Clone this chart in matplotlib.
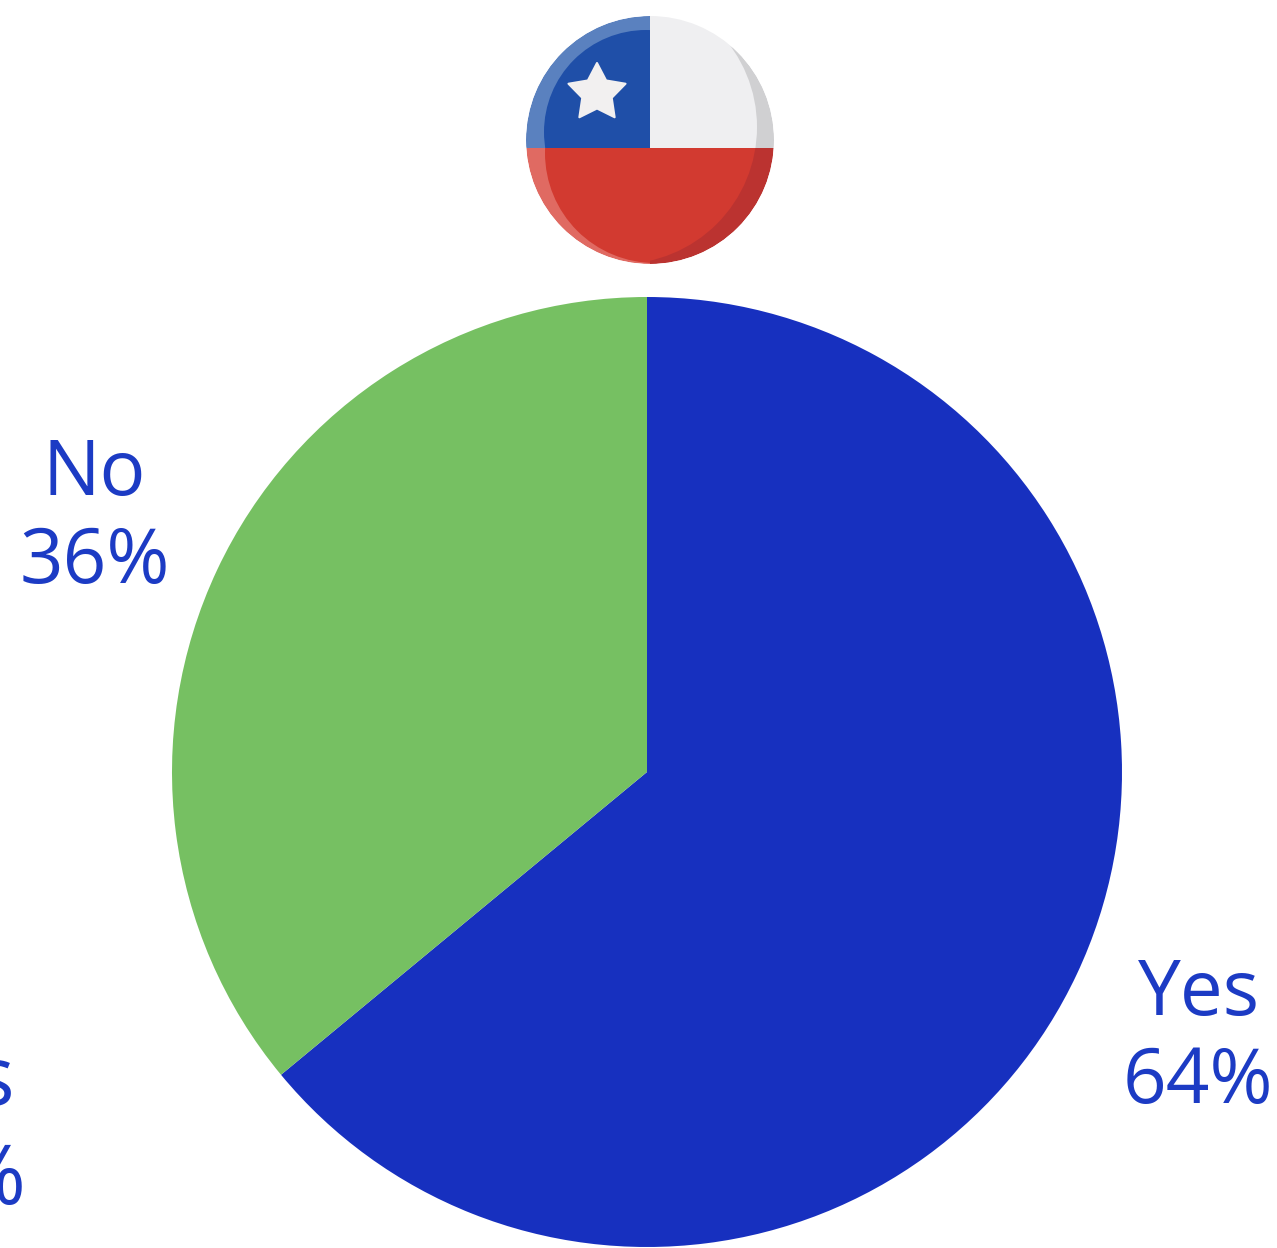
import matplotlib
matplotlib.use('Agg')
import matplotlib.pyplot as plt
import numpy as np
from matplotlib.patches import Circle, Polygon, Rectangle, Wedge

labels = ['Yes', 'No']
shares = [64, 36]
colors = ['#1730bf', '#76c062']
text_color = '#1c3bc4'
H = 1248
FONT = 55

plt.rcParams['font.family'] = ['Open Sans', 'DejaVu Sans']

fig = plt.figure(figsize=(12.77, 12.48), dpi=100, facecolor='white')
ax = fig.add_axes([0, 0, 1, 1])

ax.pie(shares, colors=colors, startangle=90, counterclock=False,
       center=(647, H - 772), radius=475, frame=True,
       wedgeprops={'linewidth': 0})

ax.set_xlim(0, 1277)
ax.set_ylim(0, H)
ax.axis('off')


def label(x, y, s, ha='center', size=FONT):
    ax.text(x, H - y, s, color=text_color, fontsize=size, ha=ha, va='baseline')


label(94, 495, labels[1])
label(95, 583, str(shares[1]) + '%')
label(1199, 1015, labels[0])
label(1198, 1103, str(shares[0]) + '%')

# pieces of the next pie's label, cut by the left edge
label(14, 1105, 's', ha='right', size=60)
label(26, 1204, '%', ha='right', size=60)

# round flag badge, one quadrant at a time: rim colour, then face colour
fx, fy, fr = 650, 140, 124
split_y = 148
disc = Circle((fx, H - fy), fr, transform=ax.transData)
lit_top = ((646, 132), 102)
lit_bottom = ((655, 153), 110)
shade = ((620, 127), 137)
quadrants = [
    (fx - 150, H - split_y, '#5a81bf', '#1f4fa8', lit_top),
    (fx - 150, H - split_y - 150, '#e06a62', '#d23a30', lit_bottom),
    (fx, H - split_y, '#d0d0d2', '#efeff1', shade),
    (fx, H - split_y - 150, '#bb3330', '#d23a30', shade),
]
for x0, y0, rim, face, (centre, r) in quadrants:
    base = Rectangle((x0, y0), 150, 150, fc=rim, lw=0, zorder=3)
    ax.add_patch(base)
    base.set_clip_path(disc)
    top = Rectangle((x0, y0), 150, 150, fc=face, lw=0, zorder=4)
    ax.add_patch(top)
    top.set_clip_path(Circle((centre[0], H - centre[1]), r, transform=ax.transData))

# trims the faces back to the round outline
ax.add_patch(Wedge((fx, H - fy), fr + 30, 0, 360, width=30, fc='white', lw=0, zorder=5))

angles = np.pi / 2 + np.arange(10) * np.pi / 5
radii = np.where(np.arange(10) % 2 == 0, 30, 15.5)
star = np.column_stack([597 + radii * np.cos(angles), H - 93 + radii * np.sin(angles)])
ax.add_patch(Polygon(star, closed=True, fc='#f2f0f0', ec='#f2f0f0', lw=1.5,
                     joinstyle='round', zorder=6))

fig.savefig('out.png', dpi=100, facecolor='white')
